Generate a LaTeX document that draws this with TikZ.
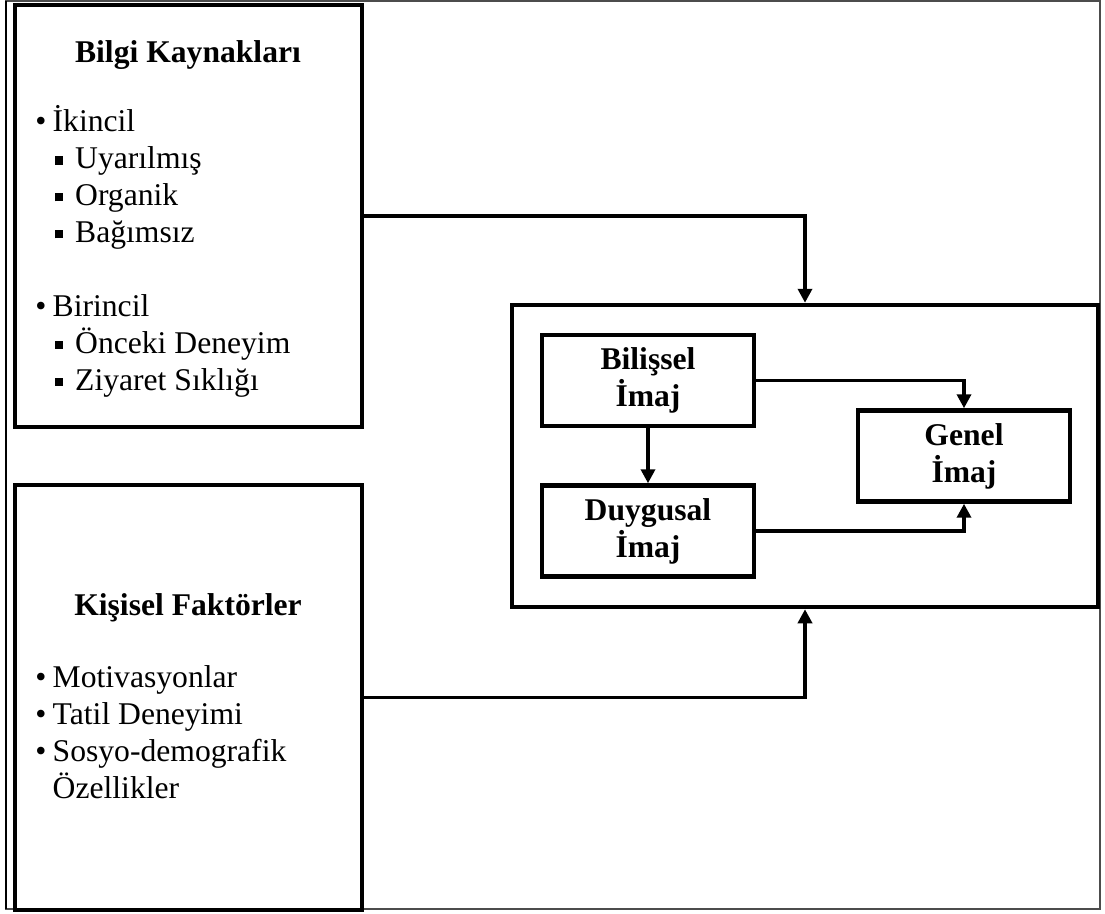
\documentclass[tikz,border=0pt]{standalone}
\usepackage{fontspec}
\setmainfont{Liberation Serif}
\usetikzlibrary{arrows.meta,fit}
\newcommand\litem{\makebox[0.55em][l]{\textbullet}}
\newcommand\sitem{\hspace*{0.63em}\makebox[0.63em][l]{\rule[0.13em]{0.26em}{0.26em}}}

\begin{document}
\begin{tikzpicture}[x=0.02cm,y=-0.02cm,
  panel/.style={draw,line width=0.09cm,inner sep=0pt},
  ibox/.style={panel,font=\bfseries,align=center,minimum width=4.24cm,minimum height=1.82cm},
  arr/.style={line width=0.075cm,-{Triangle[length=0.28cm,width=0.28cm]}},
  lst/.style={align=left,anchor=base west,inner sep=0pt},
  hd/.style={font=\bfseries,anchor=base,inner sep=0pt}]
  \fontsize{18}{21}\selectfont
  \useasboundingbox (0,0) rectangle (1105,913);
  \draw[gray!60!black,line width=0.03cm] (6,1) rectangle (1100,909);
  \draw[line width=0.03cm] (6,1) -- (6,909);
  % left side
  \node[panel,fit={(15,5) (362,427)}] (bilgi) {};
  \node[hd] (bilgiT) at (188,62) {Bilgi Kaynakları};
  \node[lst] (bilgiL) at (35,390)
    {\litem İkincil\\\sitem Uyarılmış\\\sitem Organik\\\sitem Bağımsız\\[21pt]
     \litem Birincil\\\sitem Önceki Deneyim\\\sitem Ziyaret Sıklığı};
  \node[panel,fit={(15,485) (362,910)}] (kisisel) {};
  \node[hd] (kisiselT) at (188,615) {Kişisel Faktörler};
  \node[lst] (kisiselL) at (35,798)
    {\litem Motivasyonlar\\\litem Tatil Deneyimi\\\litem Sosyo-demografik\\
     \hspace*{0.55em}Özellikler};
  % image block
  \node[panel,fit={(512,305) (1098,607)}] (imaj) {};
  \node[ibox] (bilissel) at (648,380.5) {Bilişsel\\İmaj};
  \node[ibox] (duygusal) at (648,531) {Duygusal\\İmaj};
  \node[ibox] (genel) at (964,456) {Genel\\İmaj};
  \draw[arr] (bilgi.east) -| (imaj.north);
  \draw[arr] (kisisel.east) -| (imaj.south);
  \draw[arr] (bilissel) -- (duygusal);
  \draw[arr] (bilissel.east) -| (genel.north);
  \draw[arr] (duygusal.east) -| (genel.south);
\end{tikzpicture}
\end{document}
